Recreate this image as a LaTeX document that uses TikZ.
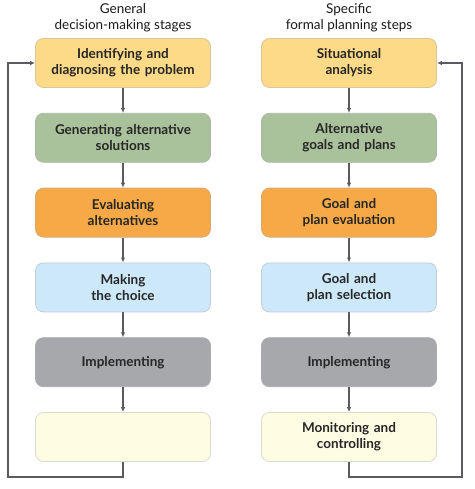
\documentclass[tikz,border=0pt]{standalone}
\usepackage{fontspec}
\setmainfont{Lato}
\usetikzlibrary{positioning, arrows.meta}

\definecolor{stageyellow}{HTML}{FDDA87}
\definecolor{stagegreen}{HTML}{A9C29C}
\definecolor{stageorange}{HTML}{F7A948}
\definecolor{stageblue}{HTML}{CDE8F8}
\definecolor{stagegray}{HTML}{A7A8AB}
\definecolor{stagepale}{HTML}{FEFDE4}
\definecolor{flowgray}{HTML}{5A5B5E}

\begin{document}
\begin{tikzpicture}[
    stage/.style={draw=#1!80!black!70, fill=#1, line width=0.8pt, rounded corners=8pt,
      minimum width=175pt, minimum height=49pt, text width=170pt, align=center,
      inner sep=0pt, font=\fontsize{13.5}{16}\selectfont\bfseries, text=black!85},
    title/.style={align=center, font=\fontsize{13.5}{16}\selectfont, text=black!90},
    flow/.style={draw=flowgray, line width=1.3pt, -{Latex[length=5pt,width=4.5pt]}}
  ]
  \useasboundingbox (0,0) rectangle (474pt,-489pt);

  % general decision-making stages
  \node[stage=stageyellow] (L1) at (123pt,-63pt) {Identifying and\\diagnosing the problem};
  \node[stage=stagegreen, below=25pt of L1] (L2) {Generating alternative\\solutions};
  \node[stage=stageorange, below=25pt of L2] (L3) {Evaluating\\alternatives};
  \node[stage=stageblue, below=25pt of L3] (L4) {Making\\the choice};
  \node[stage=stagegray, below=25pt of L4] (L5) {Implementing};
  \node[stage=stagepale, below=25pt of L5] (L6) {};
  \node[title, above=3pt of L1] (LT) {General\\decision-making stages};

  % specific formal planning steps
  \node[stage=stageyellow] (R1) at (349pt,-63pt) {Situational\\analysis};
  \node[stage=stagegreen, below=25pt of R1] (R2) {Alternative\\goals and plans};
  \node[stage=stageorange, below=25pt of R2] (R3) {Goal and\\plan evaluation};
  \node[stage=stageblue, below=25pt of R3] (R4) {Goal and\\plan selection};
  \node[stage=stagegray, below=25pt of R4] (R5) {Implementing};
  \node[stage=stagepale, below=25pt of R5] (R6) {Monitoring and\\controlling};
  \node[title, above=3pt of R1] (RT) {Specific\\formal planning steps};

  \foreach \i/\j in {1/2, 2/3, 3/4, 4/5, 5/6} {
    \draw[flow] (L\i) -- (L\j);
    \draw[flow] (R\i) -- (R\j);
  }

  % feedback loops
  \coordinate (lb) at (8pt,-477pt);
  \coordinate (rb) at (462pt,-477pt);
  \draw[flow] (L6.south) |- (lb) |- (L1.west);
  \draw[flow] (R6.south) |- (rb) |- (R1.east);
\end{tikzpicture}
\end{document}
